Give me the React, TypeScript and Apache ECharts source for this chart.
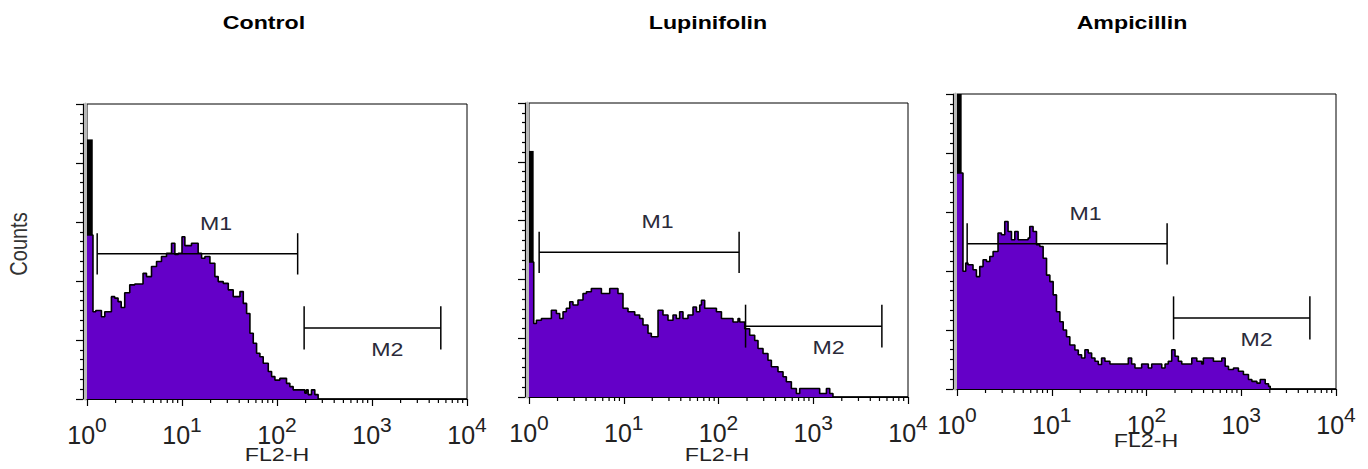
import React, { useEffect, useRef } from "react";
import * as echarts from "echarts";

// ---------- data ----------
const panelTitles = ["Control", "Lupinifolin", "Ampicillin"];

// histogram steps: left edge of each run of channels (FL2-H) and its count (% of axis height)
const controlFL2 = [1, 1.156, 1.236, 1.419, 1.538, 1.807, 1.959, 2.123, 2.291, 2.495, 2.818, 3.184, 3.89, 4.227, 4.775, 5.395, 6.081, 6.871, 7.762, 8.414, 9.12, 10, 10.72, 12.59, 14.79, 16.07, 17.42, 19.68, 22.18, 24.04, 27.16, 30.69, 34.59, 40.74, 44.16, 47.86, 51.88, 56.23, 60.95, 66.07, 71.61, 80.91, 87.7, 95.06, 107.2, 125.9, 136.5, 147.9, 196.3, 204.2, 212.8, 230.7, 250, 271, 10000];
const controlCounts = [55.6, 29.6, 30, 27.9, 29.6, 34.7, 34.2, 33, 31, 36, 38.7, 39, 42.6, 41.5, 44.9, 46.6, 48.3, 49.4, 52.8, 49, 49.4, 55, 52, 52.8, 49.4, 47.7, 48.3, 46, 41.5, 39.8, 39.2, 37, 34.7, 36.4, 32.4, 29, 22.3, 18.9, 15.5, 14.3, 12.1, 9.3, 7.6, 6.4, 7, 5.3, 4.2, 3.1, 2, 3.1, 1.5, 3.1, 1.5, 0, 0];

const lupinifolinFL2 = [1, 1.122, 1.197, 1.352, 1.722, 1.945, 2.109, 2.286, 2.477, 2.692, 2.911, 3.289, 3.715, 4.036, 4.55, 5.808, 7.112, 8.69, 9.817, 11.09, 13.06, 14.72, 15.96, 18.03, 19.54, 23.01, 25.94, 29.31, 33.11, 35.89, 38.9, 42.17, 47.64, 53.83, 58.48, 63.39, 66.07, 71.45, 95.06, 107.4, 142.2, 160.7, 167.5, 189.2, 213.3, 241, 261.2, 295.1, 332.7, 361.4, 424.6, 479.7, 520, 587.5, 663.7, 719.5, 1169, 1377, 1493, 1614, 10000];
const lupinifolinCounts = [45.9, 25, 26.1, 26.7, 29.5, 28.4, 26.7, 29, 30.2, 32.4, 31.3, 33, 35.2, 35.8, 36.9, 35.2, 36.9, 35.2, 30.2, 29, 27.9, 26.7, 24.5, 21.7, 20.5, 29.5, 27.9, 26.1, 27.9, 26.7, 29, 26.7, 27.9, 30.6, 29, 31.3, 32.9, 30.2, 29, 26.7, 25.5, 26.7, 25.5, 23.2, 21, 19.2, 16.5, 14.8, 12.5, 10.3, 8.6, 6.9, 5.2, 2.9, 1.2, 2.9, 1.2, 2.9, 1.2, 0, 0];

const ampicillinFL2 = [1, 1.156, 1.236, 1.306, 1.476, 1.603, 1.738, 1.884, 2.046, 2.218, 2.404, 2.71, 2.944, 3.192, 3.459, 3.758, 4.074, 4.416, 5.636, 5.861, 6.353, 6.902, 7.482, 8.11, 8.81, 9.55, 10.35, 11.22, 12.19, 13.21, 14.32, 15.52, 17.54, 19.05, 20.65, 22.39, 24.27, 26.36, 28.58, 30.97, 33.57, 36.39, 41.11, 64.27, 69.66, 75.51, 88.92, 104.5, 113.5, 144.9, 157, 169.8, 184.5, 200, 216.8, 235.5, 300.6, 339.6, 382.8, 398.1, 508.2, 623.7, 676.1, 732.8, 827.9, 933.3, 1054, 1191, 1294, 1462, 1585, 1791, 1941, 2023, 10000];
const ampicillinCounts = [73.2, 39.9, 42.7, 42.1, 40.4, 38.1, 41.5, 43.8, 43.2, 44.9, 46.6, 52.9, 52.3, 56.8, 53.4, 50.6, 53.4, 50.6, 51.2, 55.1, 53.4, 48.9, 48.3, 44.3, 38.6, 36.4, 31.9, 26.2, 22.8, 20, 17.7, 14.9, 13.2, 11.6, 10.5, 13.3, 12.2, 10.5, 9.4, 8.3, 10.5, 9.4, 8.5, 10.5, 8.5, 7.1, 8.5, 7.1, 8.5, 7.1, 8.5, 9.4, 13.3, 11.1, 9.4, 8.5, 10.5, 9.4, 8.5, 10.5, 9.4, 10.5, 7.7, 6.6, 7.1, 6, 4.9, 3.2, 2.6, 2, 3.2, 1.8, 0.9, 0, 0];

// first-channel spike drawn in black: [FL2 from, FL2 to, count low, count high]
const controlSpike = [1, 1.15, 55.6, 88];
const lupinifolinSpike = [1, 1.12, 45.9, 83.7];
const ampicillinSpike = [1, 1.12, 73.2, 100];

// region markers
const markerNames = ["M1", "M2"];
const markerStart = [1.28, 193];
const markerEnd = [165, 5300];
const markerLevel = [49.2, 24.1];
const markerHalfTick = [7, 7.3];
const markerLabelX = [22.8, 1450];
const markerLabelY = [59.7, 16.8];

// axis ticks
const decadeTicks = [1, 10, 100, 1000, 10000];
const minorTickValues = [2, 3, 4, 5, 6, 7, 8, 9, 20, 30, 40, 50, 60, 70, 80, 90, 200, 300, 400, 500, 600, 700, 800, 900, 2000, 3000, 4000, 5000, 6000, 7000, 8000, 9000];
const countTicks = [0, 20, 40, 60, 80, 100];
const xAxisName = "FL2-H";
const yAxisName = "Counts";

// ---------- layout ----------
const grids = [
  { left: 87, top: 104, width: 380, height: 295 },
  { left: 529, top: 103, width: 379, height: 294 },
  { left: 957, top: 94, width: 379, height: 295 },
];
const titlePos = [
  [264, 22],
  [708, 22],
  [1132, 22],
];
const xNamePos = [
  [277, 454],
  [717, 454],
  [1146, 440],
];
const STRETCH = 1.22;
const FONT = '"Liberation Sans", Arial, Helvetica, sans-serif';
const PURPLE = "#6400c8";

const histX = [controlFL2, lupinifolinFL2, ampicillinFL2];
const histY = [controlCounts, lupinifolinCounts, ampicillinCounts];
const spikes = [controlSpike, lupinifolinSpike, ampicillinSpike];

function buildOption() {
  const grid: any[] = [];
  const xAxis: any[] = [];
  const yAxis: any[] = [];
  const series: any[] = [];
  const graphic: any[] = [];

  grids.forEach((g, i) => {
    grid.push({ ...g, show: true, borderColor: "#000", borderWidth: 1, backgroundColor: "transparent" });
    xAxis.push({
      type: "log",
      logBase: 10,
      gridIndex: i,
      min: decadeTicks[0],
      max: decadeTicks[decadeTicks.length - 1],
      splitNumber: 4,
      axisLine: { show: true, lineStyle: { color: "#000", width: 1 } },
      axisTick: { show: true, inside: false, length: 7, lineStyle: { color: "#000", width: 1.2 } },
      splitLine: { show: false },
      axisLabel: {
        show: true,
        margin: 15,
        formatter: (v: number) => "{b|10}{s|" + Math.round(Math.log10(v)) + "}",
        rich: {
          b: { fontSize: 25, fontFamily: FONT, color: "#222", lineHeight: 42 },
          s: { fontSize: 21, fontFamily: FONT, color: "#222", lineHeight: 22, verticalAlign: "top" },
        },
      },
    });
    yAxis.push({
      type: "value",
      gridIndex: i,
      position: "left",
      min: countTicks[0],
      max: countTicks[countTicks.length - 1],
      interval: countTicks[1] - countTicks[0],
      offset: 4,
      axisLine: { show: true, lineStyle: { color: "#000", width: 1.2 } },
      axisTick: { show: true, inside: false, length: 7, lineStyle: { color: "#000", width: 1.2 } },
      minorTick: { show: true, splitNumber: 6, length: 3, lineStyle: { color: "#000", width: 1.2 } },
      axisLabel: { show: false },
      splitLine: { show: false },
    });
    yAxis.push({
      type: "value",
      gridIndex: i,
      position: "left",
      min: 0,
      max: 1,
      offset: 2,
      axisLine: { show: true, lineStyle: { color: "#b8b8b8", width: 3 } },
      axisTick: { show: false },
      axisLabel: { show: false },
      splitLine: { show: false },
    });

    series.push({
      type: "line",
      xAxisIndex: i,
      yAxisIndex: i * 2,
      step: "end",
      symbol: "none",
      data: histX[i].map((x, k) => [x, histY[i][k]]),
      lineStyle: { color: "#000", width: 1.6 },
      areaStyle: { color: PURPLE, opacity: 1 },
      z: 2,
    });

    series.push({
      type: "custom",
      xAxisIndex: i,
      yAxisIndex: i * 2,
      data: [spikes[i]],
      encode: { x: [0, 1], y: [2, 3] },
      z: 3,
      silent: true,
      renderItem: (_p: any, api: any) => {
        const a = api.coord([api.value(0), api.value(3)]);
        const b = api.coord([api.value(1), api.value(2)]);
        return { type: "rect", shape: { x: a[0], y: a[1], width: b[0] - a[0], height: b[1] - a[1] }, style: { fill: "#000" } };
      },
    });

    series.push({
      type: "custom",
      xAxisIndex: i,
      yAxisIndex: i * 2,
      clip: false,
      silent: true,
      z: 5,
      data: markerNames.map((_n, k) => [markerStart[k], markerEnd[k], markerLevel[k], markerHalfTick[k], markerLabelX[k], markerLabelY[k]]),
      encode: { x: [0, 1, 4], y: [2, 5] },
      renderItem: (params: any, api: any) => {
        const x1 = api.value(0), x2 = api.value(1), y = api.value(2), h = api.value(3);
        const a = api.coord([x1, y]);
        const b = api.coord([x2, y]);
        const top = api.coord([x1, y + h])[1];
        const bot = api.coord([x1, y - h])[1];
        const lab = api.coord([api.value(4), api.value(5)]);
        const ls = { stroke: "#000", lineWidth: 1.5 };
        return {
          type: "group",
          children: [
            { type: "line", shape: { x1: a[0], y1: a[1], x2: b[0], y2: b[1] }, style: ls },
            { type: "line", shape: { x1: a[0], y1: top, x2: a[0], y2: bot }, style: ls },
            { type: "line", shape: { x1: b[0], y1: top, x2: b[0], y2: bot }, style: ls },
            {
              type: "text",
              x: lab[0],
              y: lab[1],
              scaleX: STRETCH,
              style: {
                text: markerNames[params.dataIndex],
                fill: "#2a2a3a",
                fontSize: 19,
                fontFamily: FONT,
                align: "center",
                verticalAlign: "middle",
              },
            },
          ],
        };
      },
    });

    series.push({
      type: "custom",
      xAxisIndex: i,
      yAxisIndex: i * 2,
      clip: false,
      silent: true,
      z: 5,
      data: minorTickValues.map((v) => [v, 0]),
      encode: { x: 0, y: 1 },
      renderItem: (_p: any, api: any) => {
        const p = api.coord([api.value(0), 0]);
        return { type: "line", shape: { x1: p[0], y1: p[1], x2: p[0], y2: p[1] + 4 }, style: { stroke: "#000", lineWidth: 1.2 } };
      },
    });

    graphic.push({
      type: "text",
      x: titlePos[i][0],
      y: titlePos[i][1],
      scaleX: STRETCH,
      style: { text: panelTitles[i], fill: "#000", font: 'bold 19px ' + FONT, textAlign: "center", textVerticalAlign: "middle" },
    });
    graphic.push({
      type: "text",
      x: xNamePos[i][0],
      y: xNamePos[i][1],
      scaleX: STRETCH,
      style: { text: xAxisName, fill: "#222", font: '19px ' + FONT, textAlign: "center", textVerticalAlign: "middle" },
    });
  });

  graphic.push({
    type: "text",
    x: 19,
    y: 244,
    rotation: Math.PI / 2,
    scaleY: STRETCH,
    style: { text: yAxisName, fill: "#333", font: '20px ' + FONT, textAlign: "center", textVerticalAlign: "middle" },
  });

  return { animation: false, backgroundColor: "#fff", grid, xAxis, yAxis, series, graphic };
}

export default function App() {
  const ref = useRef<HTMLDivElement>(null);
  useEffect(() => {
    if (!ref.current) return;
    const chart = echarts.init(ref.current, undefined, { renderer: "svg" });
    chart.setOption(buildOption());
    return () => chart.dispose();
  }, []);
  return <div ref={ref} style={{ position: "absolute", left: 0, top: 0, width: 1368, height: 469 }} />;
}
